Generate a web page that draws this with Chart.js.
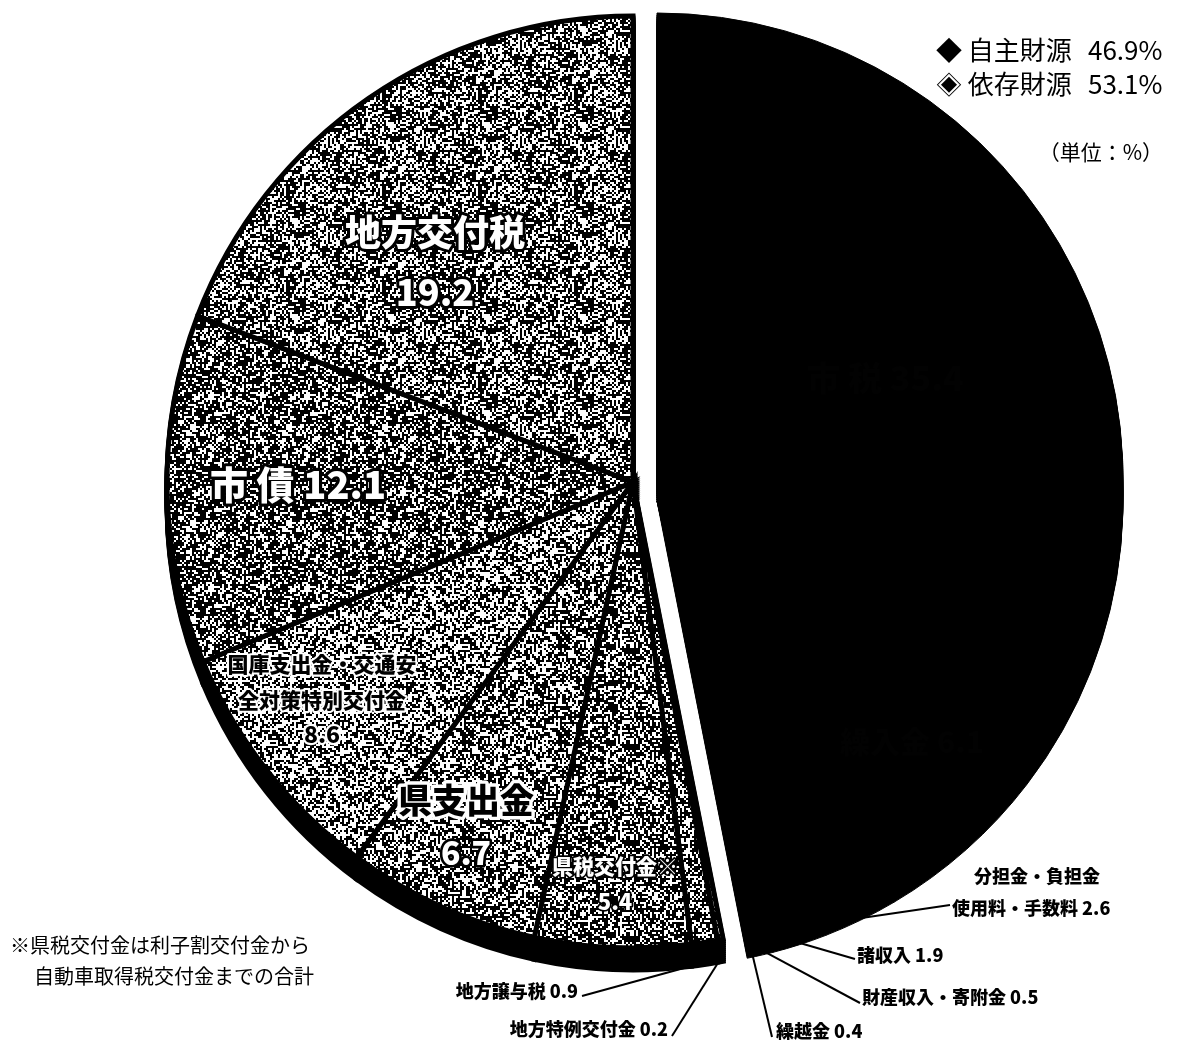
<!DOCTYPE html>
<html lang="ja">
<head>
<meta charset="utf-8">
<title>歳入の構成</title>
<script src="https://cdn.jsdelivr.net/npm/chart.js@4.4.0/dist/chart.umd.min.js"></script>
<style>
html,body{margin:0;padding:0;background:#fff;}
#wrap{position:relative;width:1179px;height:1042px;}
</style>
</head>
<body>
<div id="wrap"><canvas id="chart" width="1179" height="1042"></canvas></div>
<script>
// data (単位：%) clockwise from 12 o'clock
const labels = ["市 税","繰入金","分担金・負担金\n使用料・手数料","諸収入","財産収入・寄附金","繰越金",
"地方特例交付金","地方譲与税","県税交付金※","県支出金","国庫支出金・交通安\n全対策特別交付金","市 債","地方交付税"];
const values = [35.4,6.1,2.6,1.9,0.5,0.4,0.2,0.9,5.4,6.7,8.6,12.1,19.2];
const ownCount = 6; // first 6 = 自主財源, rest = 依存財源
const groupNames = ["自主財源","依存財源"];
const groupMarks = ["◆","◈"];
const unitText = "（単位：%）";
const noteLines = ["※県税交付金は利子割交付金から","自動車取得税交付金までの合計"];

/* look */
const depth = 22;
const shift = {x:24,y:-3};
const stippleDensity = [0,0,0,0,0,0,0.55,0.56,0.6,0.55,0.5,0.62,0.58];

/* label spots: stack = name lines then value, inline = name + value, callout = outside with leader */
const spots = [
{mode:"inline",x:885,y:378,size:34,style:"hidden"},
{mode:"inline",x:912,y:742,size:30,style:"hidden"},
{mode:"callout",x:952,y:908,size:18,align:"left",lx:950,ly:905,first:{x:1037,y:876}},
{mode:"callout",x:857,y:955,size:18,align:"left",lx:855,ly:959},
{mode:"callout",x:862,y:997,size:18,align:"left",lx:860,ly:1003},
{mode:"callout",x:776,y:1031,size:18,align:"left",lx:772,ly:1037},
{mode:"callout",x:668,y:1029,size:18,align:"right",lx:672,ly:1036},
{mode:"callout",x:578,y:991,size:18,align:"right",lx:582,ly:996},
{mode:"stack",x:615,y:866,size:21,style:"light",gap:36,vsize:22},
{mode:"stack",x:466,y:800,size:34,style:"dark",gap:53,vsize:32,vstyle:"light"},
{mode:"stack",x:322,y:664,size:21,style:"dark",gap:35,vsize:23},
{mode:"inline",x:298,y:485,size:38,style:"light"},
{mode:"stack",x:435,y:232,size:36,style:"light",gap:60,vsize:36}
];

function stipple(density,seed){
const n=96;
const c=document.createElement("canvas");
c.width=n;c.height=n;
const g=c.getContext("2d");
const img=g.createImageData(n,n);
let s=seed;
for(let y=0;y<n;y+=2){
for(let x=0;x<n;x+=2){
s=(Math.imul(s,1664525)+1013904223)>>>0;
const v=(s/4294967296)<density?0:255;
for(let dy=0;dy<2;dy++)for(let dx=0;dx<2;dx++){
const k=((y+dy)*n+(x+dx))*4;
img.data[k]=img.data[k+1]=img.data[k+2]=v;
img.data[k+3]=255;
}
}
}
g.putImageData(img,0,0);
return g.createPattern(c,"repeat");
}

const fills = values.map((v,i)=> i<ownCount ? "#000" : stipple(stippleDensity[i],1234+i*77));
const borderWidths = values.map((v,i)=> i<ownCount ? 1 : 5);

function drawText(ctx,txt,x,y,size,style,align){
ctx.font=`900 ${size}px "Noto Sans CJK JP"`;
ctx.textAlign=align||"center";
ctx.textBaseline="middle";
ctx.lineJoin="round";
if(style==="light"){
ctx.lineWidth=Math.max(3,size/6);
ctx.strokeStyle="#000";
ctx.strokeText(txt,x,y);
ctx.fillStyle="#fff";
ctx.fillText(txt,x,y);
}else if(style==="dark"){
ctx.lineWidth=Math.max(4,size/5);
ctx.strokeStyle="#fff";
ctx.strokeText(txt,x,y);
ctx.fillStyle="#000";
ctx.fillText(txt,x,y);
}else if(style==="hidden"){
// label almost lost in the black slice, as in the scan
ctx.fillStyle="#020202";
ctx.fillText(txt,x,y);
}else{
ctx.fillStyle="#000";
ctx.fillText(txt,x,y);
}
}

/* 3D wall + exploded 自主財源 group */
const piePlugin = {
id:"pie3d",
beforeDatasetDraw(chart,args){
const ctx=chart.ctx;
const arcs=args.meta.data;
arcs.forEach((arc,i)=>{
const p=Object.create(arc);
p.options=Object.assign({},arc.options,{backgroundColor:"#000",borderColor:"#000"});
const sx=i<ownCount?shift.x:0, sy=i<ownCount?shift.y:0;
for(let d=2;d<=depth;d+=2){
ctx.save();
ctx.translate(sx,sy+d);
Chart.ArcElement.prototype.draw.call(p,ctx);
ctx.restore();
}
});
arcs.forEach((arc,i)=>{
ctx.save();
if(i<ownCount) ctx.translate(shift.x,shift.y);
arc.draw(ctx);
ctx.restore();
});
return false;
},
afterDatasetsDraw(chart){
const ctx=chart.ctx;
const arcs=chart.getDatasetMeta(0).data;
spots.forEach((sp,i)=>{
const names=labels[i].split("\n");
const val=values[i].toFixed(1);
if(sp.mode==="inline"){
drawText(ctx,names[0]+" "+val,sp.x,sp.y,sp.size,sp.style);
}else if(sp.mode==="stack"){
names.forEach((t,k)=>drawText(ctx,t,sp.x,sp.y+k*sp.size*1.7,sp.size,sp.style));
drawText(ctx,val,sp.x,sp.y+(names.length-1)*sp.size*1.7+sp.gap,sp.vsize,sp.vstyle||sp.style);
}else{
const arc=arcs[i];
const mid=(arc.startAngle+arc.endAngle)/2;
const sx=i<ownCount?shift.x:0, sy=i<ownCount?shift.y:0;
const r=arc.outerRadius-2;
const px=arc.x+Math.cos(mid)*r+sx;
const py=arc.y+Math.sin(mid)*r+sy+depth;
ctx.beginPath();
ctx.moveTo(px,py);
ctx.lineTo(sp.lx,sp.ly);
ctx.strokeStyle="#000";
ctx.lineWidth=2;
ctx.stroke();
if(sp.first){
drawText(ctx,names[0],sp.first.x,sp.first.y,sp.size,"plain","center");
drawText(ctx,names[1]+" "+val,sp.x,sp.y,sp.size,"plain",sp.align);
}else{
drawText(ctx,names[0]+" "+val,sp.x,sp.y,sp.size,"plain",sp.align);
}
}
});
/* group totals */
const own=values.slice(0,ownCount).reduce((a,b)=>a+b,0);
const dep=values.slice(ownCount).reduce((a,b)=>a+b,0);
const totals=[own,dep];
ctx.fillStyle="#000";
ctx.textBaseline="middle";
groupNames.forEach((g,k)=>{
const y=50+k*34;
ctx.font='26px "Noto Sans CJK JP"';
ctx.textAlign="left";
ctx.fillText(groupMarks[k]+" "+g,936,y);
ctx.fillText(totals[k].toFixed(1)+"%",1088,y);
});
ctx.font='21px "Noto Sans CJK JP"';
ctx.textAlign="right";
ctx.fillText(unitText,1163,152);
ctx.font='20px "Noto Sans CJK JP"';
ctx.textAlign="left";
ctx.fillText(noteLines[0],10,945);
ctx.fillText(noteLines[1],34,976);
}
};

new Chart(document.getElementById("chart"),{
type:"pie",
data:{
labels:labels,
datasets:[{
data:values,
backgroundColor:fills,
borderColor:"#000",
borderWidth:borderWidths,
borderJoinStyle:"miter"
}]
},
options:{
responsive:false,
animation:false,
radius:466,
layout:{padding:{left:166,right:79,top:16,bottom:94}},
plugins:{legend:{display:false},tooltip:{enabled:false}}
},
plugins:[piePlugin]
});
</script>
</body>
</html>
